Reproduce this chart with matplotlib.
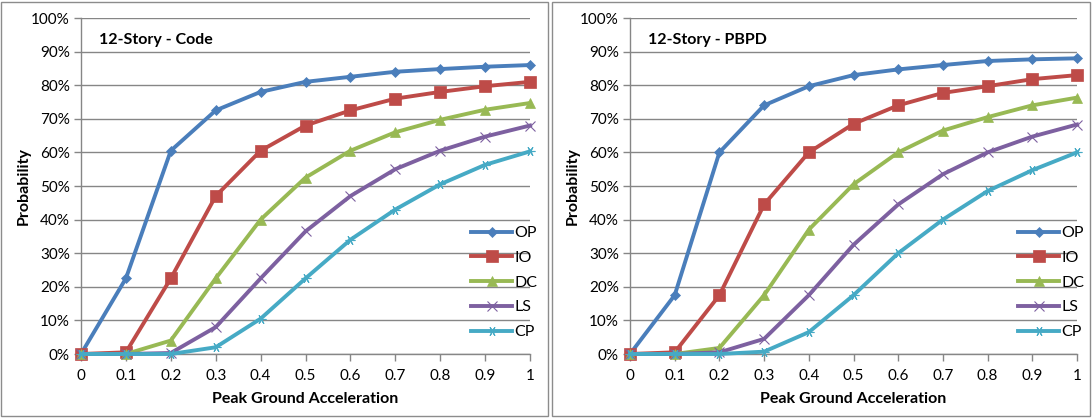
import matplotlib
matplotlib.use("Agg")
import matplotlib.pyplot as plt
from matplotlib.patches import Rectangle
from matplotlib.ticker import PercentFormatter

plt.rcParams['font.family'] = ['Lato', 'DejaVu Sans']

pga = [0, 0.1, 0.2, 0.3, 0.4, 0.5, 0.6, 0.7, 0.8, 0.9, 1.0]
x_ticks = [0, 0.1, 0.2, 0.3, 0.4, 0.5, 0.6, 0.7, 0.8, 0.9, 1]
x_tick_labels = ["0", "0.1", "0.2", "0.3", "0.4", "0.5", "0.6", "0.7", "0.8", "0.9", "1"]
levels = ["OP", "IO", "DC", "LS", "CP"]

code_op = [0, 22.5, 60.5, 72.5, 78, 81, 82.5, 84, 84.8, 85.5, 86]
code_io = [0, 0.5, 22.5, 47, 60.5, 68, 72.5, 76, 78, 79.7, 81]
code_dc = [0, 0, 4, 22.5, 40, 52.5, 60.5, 66, 69.7, 72.7, 74.7]
code_ls = [0, 0, 0.3, 8, 22.5, 36.5, 47, 55, 60.5, 64.7, 68]
code_cp = [0, 0, 0, 2, 10.5, 22.5, 34, 43, 50.5, 56.3, 60.3]

pbpd_op = [0, 17.5, 60, 74, 79.7, 83, 84.7, 86, 87.2, 87.7, 88]
pbpd_io = [0, 0.5, 17.5, 44.5, 60, 68.5, 74, 77.7, 79.7, 81.8, 83]
pbpd_dc = [0, 0, 1.8, 17.5, 37, 50.5, 60, 66.5, 70.5, 74, 76.3]
pbpd_ls = [0, 0, 0.5, 4.5, 17.5, 32.5, 44.5, 53.5, 60, 64.7, 68.3]
pbpd_cp = [0, 0, 0, 0.7, 6.5, 17.5, 30, 40, 48.5, 54.7, 60]

titles = ["12-Story - Code", "12-Story - PBPD"]

colors = ["#4A7EBB", "#BE4B48", "#98B954", "#7D60A0", "#46AAC5"]
markers = ["D", "s", "^", "x", (6, 2, 90)]
msizes = [5, 8, 7, 6.5, 7]

W, H = 1092, 418
fig = plt.figure(figsize=(W / 100, H / 100), dpi=100)

panels = [
    dict(ax=(81, 530), box=(1, 548), data=[code_op, code_io, code_dc, code_ls, code_cp], title=titles[0]),
    dict(ax=(630, 1077), box=(552, 1090), data=[pbpd_op, pbpd_io, pbpd_dc, pbpd_ls, pbpd_cp], title=titles[1]),
]

y_top, y_bot = 18, 354
grid_c = "#868686"

for p in panels:
    bx0, bx1 = p["box"]
    fig.patches.append(Rectangle((bx0 / W, 2 / H), (bx1 - bx0) / W, (414) / H,
                                 transform=fig.transFigure, fill=False,
                                 edgecolor="#8c8c8c", linewidth=1.0))
    x0, x1 = p["ax"]
    ax = fig.add_axes([x0 / W, (H - y_bot) / H, (x1 - x0) / W, (y_bot - y_top) / H])
    for i, (lvl, vals) in enumerate(zip(levels, p["data"])):
        mk = markers[i]
        thin = mk == "x" or isinstance(mk, tuple)
        ax.plot(pga, vals, color=colors[i], lw=2.8, marker=mk, ms=msizes[i],
                mew=0.8 if thin else 0.5,
                mec=colors[i], mfc=colors[i], label=lvl, clip_on=False, zorder=3)
    ax.set_xlim(0, 1)
    ax.set_ylim(0, 100)
    ax.set_xticks(x_ticks)
    ax.set_xticklabels(x_tick_labels)
    ax.set_yticks(range(0, 101, 10))
    ax.yaxis.set_major_formatter(PercentFormatter(decimals=0))
    ax.grid(axis="y", color=grid_c, lw=1.0)
    ax.set_axisbelow(True)
    for s in ("top", "right"):
        ax.spines[s].set_visible(False)
    for s in ("left", "bottom"):
        ax.spines[s].set_color(grid_c)
        ax.spines[s].set_linewidth(1.0)
    ax.tick_params(axis="both", colors=grid_c, labelcolor="#000000", labelsize=11,
                   length=5, width=1.0, direction="out")
    ax.tick_params(axis="x", pad=6)
    ax.tick_params(axis="y", pad=3)
    ax.set_xlabel("Peak Ground Acceleration", fontsize=11.5, fontweight="bold", labelpad=6)
    ax.set_ylabel("Probability", fontsize=11.5, fontweight="bold", labelpad=0)
    ax.text(0.04, 0.935, p["title"], transform=ax.transAxes, fontsize=11.5,
            fontweight="bold", ha="left", va="center")
    leg = ax.legend(loc="lower right", bbox_to_anchor=(1.03, 0.025), frameon=False,
                    fontsize=11.5, handlelength=2.6, handletextpad=0.1,
                    labelspacing=0.66, borderaxespad=0.0)

fig.savefig("out.png", dpi=100)
